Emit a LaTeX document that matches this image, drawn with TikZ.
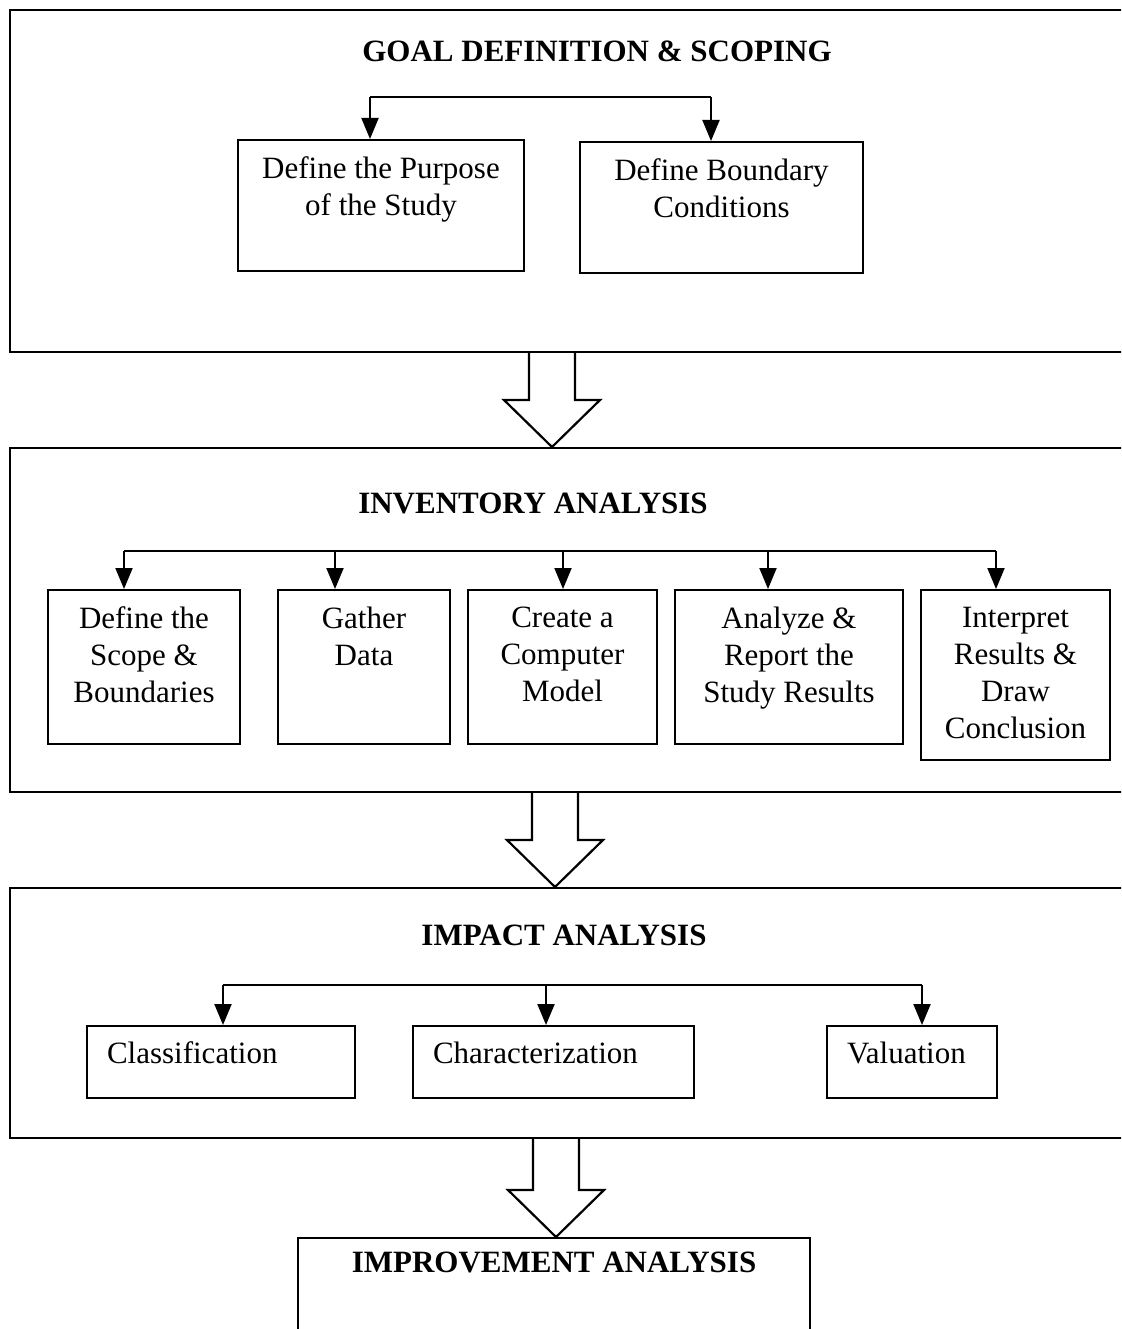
\documentclass[tikz,border=0pt]{standalone}
\usepackage{fontspec}
\setmainfont{Liberation Serif}
\usetikzlibrary{arrows.meta,calc}

% text box with its lines set from the top, centred
\newcommand\cellbox[3]{\parbox[c][#2pt][t]{#1pt}{\centering\vspace*{17pt}#3}}
% text box with a single line set from the top left
\newcommand\leftcellbox[3]{\parbox[c][#2pt][t]{#1pt}{\raggedright\vspace*{16pt}\hspace*{20pt}#3}}

\tikzset{
  section/.style={draw, line width=2pt, inner sep=0pt},
  stepbox/.style={draw, line width=2pt, inner sep=0pt,
    font=\fontsize{31}{37}\selectfont},
  sectitle/.style={anchor=base, inner sep=0pt,
    font=\fontsize{31}{37}\selectfont\bfseries},
  conn/.style={line width=2pt},
  arr/.style={line width=2pt, -{Triangle[width=17pt,length=21pt]}},
  blockarrow/.style={line width=2.2pt, line join=miter},
}

% hollow block arrow from the bottom of one section to the top of the next
\newcommand\flowarrow[3]{%
  \coordinate (fa) at (#1,0);
  \draw[blockarrow]
    ($(fa |- #2.south)+(-23,0)$) -- ($(fa |- #3.north)+(-23,-47)$)
    -- ($(fa |- #3.north)+(-48,-47)$) -- (fa |- #3.north)
    -- ($(fa |- #3.north)+(48,-47)$) -- ($(fa |- #3.north)+(23,-47)$)
    -- ($(fa |- #2.south)+(23,0)$);}

\begin{document}
\begin{tikzpicture}[x=1pt, y=-1pt]
\clip (0,0) rectangle (1121,1329);

% ---------------- sections ----------------
\node[section, minimum width=1125, minimum height=342] (goal) at (572.5,181) {};
\node[section, minimum width=1125, minimum height=344] (inv) at (572.5,620) {};
\node[section, minimum width=1125, minimum height=250] (imp) at (572.5,1013) {};
\node[section, minimum width=512, minimum height=107] (impr) at (554,1291.5) {};

\node[sectitle] (goalt) at (597,62) {GOAL DEFINITION \& SCOPING};
\node[sectitle] (invt) at (533,513) {INVENTORY ANALYSIS};
\node[sectitle] (impt) at (564,945) {IMPACT ANALYSIS};
\node[sectitle] (imprt) at (554,1272) {IMPROVEMENT ANALYSIS};

% ---------------- goal definition ----------------
\node[stepbox] (purpose) at (381,205.5) {\cellbox{286}{131}{Define the Purpose\\of the Study}};
\node[stepbox] (boundary) at (721.5,207.5) {\cellbox{283}{131}{Define Boundary\\Conditions}};

\coordinate (gbus) at (0,97);
\coordinate (g1) at ([xshift=-11]purpose.north);
\coordinate (g2) at ([xshift=-10.5]boundary.north);
\draw[conn] (g1 |- gbus) -- (g2 |- gbus);
\draw[arr] (g1 |- gbus) -- (g1);
\draw[arr] (g2 |- gbus) -- (g2);

% ---------------- inventory analysis ----------------
\node[stepbox] (scope) at (144,667) {\cellbox{192}{154}{Define the\\Scope \&\\Boundaries}};
\node[stepbox] (gather) at (364,667) {\cellbox{172}{154}{Gather\\Data}};
\node[stepbox] (model) at (562.5,667) {\cellbox{189}{154}{Create a\\Computer\\Model}};
\node[stepbox] (report) at (789,667) {\cellbox{228}{154}{Analyze \&\\Report the\\Study Results}};
\node[stepbox] (interp) at (1015.5,675) {\cellbox{189}{170}{Interpret\\Results \&\\Draw\\Conclusion}};

\coordinate (ibus) at (0,551);
\coordinate (i1) at ([xshift=-20]scope.north);
\coordinate (i2) at ([xshift=-29]gather.north);
\coordinate (i3) at ([xshift=0.5]model.north);
\coordinate (i4) at ([xshift=-21]report.north);
\coordinate (i5) at ([xshift=-19.5]interp.north);
\draw[conn] (i1 |- ibus) -- (i5 |- ibus);
\foreach \c in {i1,i2,i3,i4,i5}
  \draw[arr] (\c |- ibus) -- (\c);

% ---------------- impact analysis ----------------
\node[stepbox] (classif) at (221,1062) {\leftcellbox{268}{72}{Classification}};
\node[stepbox] (charact) at (553.5,1062) {\leftcellbox{281}{72}{Characterization}};
\node[stepbox] (valu) at (912,1062) {\leftcellbox{170}{72}{Valuation}};

\coordinate (mbus) at (0,985);
\coordinate (m1) at ([xshift=2]classif.north);
\coordinate (m2) at ([xshift=-7.5]charact.north);
\coordinate (m3) at ([xshift=10]valu.north);
\draw[conn] (m1 |- mbus) -- (m3 |- mbus);
\foreach \c in {m1,m2,m3}
  \draw[arr] (\c |- mbus) -- (\c);

% ---------------- flow between sections ----------------
\flowarrow{552}{goal}{inv}
\flowarrow{555}{inv}{imp}
\flowarrow{556}{imp}{impr}

\end{tikzpicture}
\end{document}
